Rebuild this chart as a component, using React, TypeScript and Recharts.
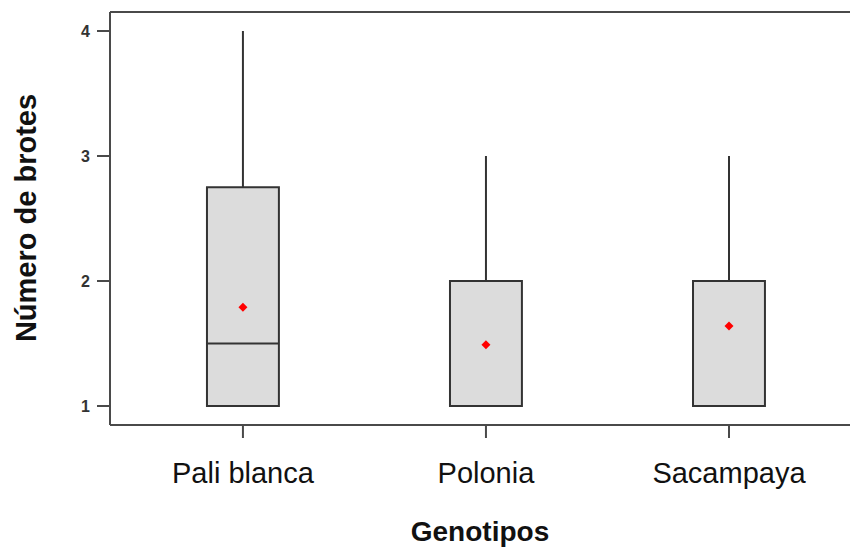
import React from 'react';
import { ComposedChart, XAxis, YAxis, ReferenceArea, ReferenceLine, Scatter } from 'recharts';

const genotypes = ['Pali blanca', 'Polonia', 'Sacampaya'];
const positions = [1, 2, 3];
const minima = [1, 1, 1];
const q1 = [1, 1, 1];
const medians = [1.5, 1, 1];
const q3 = [2.75, 2, 2];
const maxima = [4, 3, 3];
const means = [1.79, 1.49, 1.64];
const yTicks = [1, 2, 3, 4];

const X_DOMAIN: [number, number] = [0.453, 3.498];
const Y_DOMAIN: [number, number] = [0.848, 4.152];
const HALF = 0.148;

const meanData = positions.map((p, i) => ({ pos: p, mean: means[i], name: genotypes[i] }));

const AXIS_COLOR = '#4a4a4a';
const BOX_STROKE = '#333333';
const FONT = "'Liberation Sans', Arial, sans-serif";

const Diamond = (props: any) => {
  const { cx, cy } = props;
  if (cx == null || cy == null) return null;
  const r = 4.5;
  return <path d={`M${cx},${cy - r}L${cx + r},${cy}L${cx},${cy + r}L${cx - r},${cy}Z`} fill="#ff0000" />;
};

const XTick = (props: any) => {
  const { x, y, payload } = props;
  const idx = positions.indexOf(payload.value);
  return (
    <text x={x} y={y} dy={43} textAnchor="middle" fontFamily={FONT} fontSize={29} fill="#111">
      {idx >= 0 ? genotypes[idx] : ''}
    </text>
  );
};

export default function App() {
  return (
    <div style={{ position: 'absolute', left: 0, top: 0, background: '#fff' }}>
      <ComposedChart width={850} height={548} margin={{ top: 12, right: 0, bottom: 0, left: 0 }}>
        <XAxis
          type="number"
          dataKey="pos"
          domain={X_DOMAIN}
          allowDataOverflow
          ticks={positions}
          height={123}
          tickSize={13}
          tickMargin={2}
          axisLine={{ stroke: AXIS_COLOR, strokeWidth: 2 }}
          tickLine={{ stroke: AXIS_COLOR, strokeWidth: 2 }}
          tick={<XTick />}
          interval={0}
          label={{
            content: () => (
              <text x={480} y={541} textAnchor="middle" fontFamily={FONT} fontWeight="bold" fontSize={28} fill="#111">
                Genotipos
              </text>
            ),
          }}
        />
        <YAxis
          type="number"
          domain={Y_DOMAIN}
          allowDataOverflow
          ticks={yTicks}
          width={110}
          tickSize={13}
          tickMargin={7}
          axisLine={{ stroke: AXIS_COLOR, strokeWidth: 2 }}
          tickLine={{ stroke: AXIS_COLOR, strokeWidth: 2 }}
          tick={{ fontFamily: FONT, fontWeight: 'bold', fontSize: 16, fill: '#333' }}
          interval={0}
          label={{
            content: () => (
              <text transform="translate(36,218) rotate(-90)" textAnchor="middle" fontFamily={FONT} fontWeight="bold" fontSize={29} fill="#111">
                Número de brotes
              </text>
            ),
          }}
        />
        <ReferenceLine y={Y_DOMAIN[1]} stroke={AXIS_COLOR} strokeWidth={2} ifOverflow="visible" />
        {positions.map((p, i) => (
          <ReferenceLine
            key={`wu-${i}`}
            segment={[{ x: p, y: q3[i] }, { x: p, y: maxima[i] }]}
            stroke={BOX_STROKE}
            strokeWidth={2}
          />
        ))}
        {positions.map((p, i) => (
          <ReferenceLine
            key={`wl-${i}`}
            segment={[{ x: p, y: minima[i] }, { x: p, y: q1[i] }]}
            stroke={BOX_STROKE}
            strokeWidth={2}
          />
        ))}
        {positions.map((p, i) => (
          <ReferenceArea
            key={`box-${i}`}
            x1={p - HALF}
            x2={p + HALF}
            y1={q1[i]}
            y2={q3[i]}
            fill="#dcdcdc"
            fillOpacity={1}
            stroke={BOX_STROKE}
            strokeWidth={2}
          />
        ))}
        {positions.map((p, i) => (
          <ReferenceLine
            key={`med-${i}`}
            segment={[{ x: p - HALF, y: medians[i] }, { x: p + HALF, y: medians[i] }]}
            stroke={BOX_STROKE}
            strokeWidth={2}
          />
        ))}
        <Scatter data={meanData} dataKey="mean" shape={<Diamond />} isAnimationActive={false} />
      </ComposedChart>
    </div>
  );
}
